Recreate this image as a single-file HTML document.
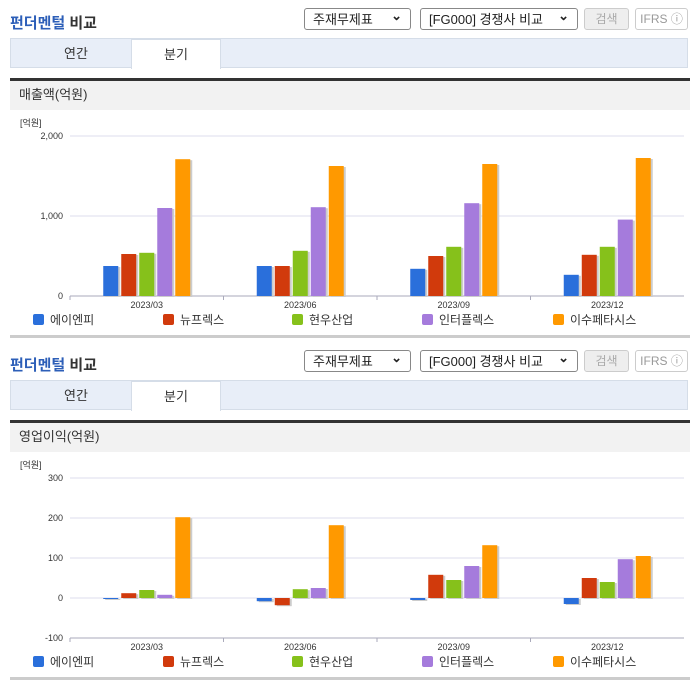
<!DOCTYPE html>
<html><head><meta charset="utf-8"><style>
body{margin:0;width:696px;height:684px;background:#fff;font-family:"Liberation Sans","Noto Sans CJK KR",sans-serif;position:relative;overflow:hidden}
.sec{position:absolute;left:0;width:696px;height:342px}
.title{position:absolute;left:10px;top:12px;font-size:15px;font-weight:bold;color:#333}
.title span{color:#2d5fb8}
.sel{position:absolute;top:8px;height:22px;border:1px solid #888;border-radius:3px;font-size:13px;line-height:22px;padding-left:8px;box-sizing:border-box;color:#222;background:#fff}
.sel:after{content:"⌄";position:absolute;right:8px;top:-4px;font-weight:bold}
.btn{position:absolute;top:8px;height:22px;border:1px solid #ccc;border-radius:3px;font-size:12px;line-height:20px;text-align:center;box-sizing:border-box;color:#aaa;background:#eee}
.tabs{position:absolute;left:10px;top:38px;width:678px;height:30px;background:#e8eef8;border:1px solid #d5dde8;box-sizing:border-box}
.tab{position:absolute;top:0;height:30px;width:90px;text-align:center;line-height:30px;font-size:13px;color:#333}
.tab.on{background:#fff;border:1px solid #d5dde8;border-bottom:none;box-sizing:border-box;left:120px}
.hdr{position:absolute;left:10px;top:78px;width:680px;height:32px;background:#f2f2f2;border-top:3px solid #333;box-sizing:border-box;font-size:13px;line-height:28px;padding-left:9px;color:#333}
.bot{position:absolute;left:10px;top:335px;width:680px;height:3px;background:#ccc}
svg{position:absolute;left:0;top:0}
</style></head><body>
<div class="sec" id="s1" style="top:0"></div>
<div class="sec" id="s2" style="top:342px"></div>
<script>
const categories=["2023/03","2023/06","2023/09","2023/12"];
const seriesNames=["에이엔피","뉴프렉스","현우산업","인터플렉스","이수페타시스"];
const colors=["#2a6fdb","#d13a0c","#86c11b","#a57bdc","#ff9900"];
const revAnp=[375,375,340,265];
const revNewflex=[525,375,500,515];
const revHyunwoo=[540,565,615,615];
const revInterflex=[1100,1110,1160,955];
const revIsu=[1710,1625,1650,1725];
const revTicks=[0,1000,2000];
const revTickLabels=["0","1,000","2,000"];
const opAnp=[0,-8,-5,-15];
const opNewflex=[12,-18,58,50];
const opHyunwoo=[20,22,45,40];
const opInterflex=[8,25,80,97];
const opIsu=[202,182,132,105];
const opTicks=[-100,0,100,200,300];
const opTickLabels=["-100","0","100","200","300"];
const NS="http://www.w3.org/2000/svg";
function mk(tag,attrs,parent){const e=document.createElementNS(NS,tag);for(const k in attrs)e.setAttribute(k,attrs[k]);parent.appendChild(e);return e;}
function section(id,label,series,ticks,tickLabels,yMin,yMax,yTop,yBot,axisY,sname){
 const s=document.getElementById(id);
 s.innerHTML=`<div class="title"><span>펀더멘털</span> 비교</div>
<div class="sel" style="left:304px;width:107px">주재무제표</div>
<div class="sel" style="left:420px;width:158px">[FG000] 경쟁사 비교</div>
<div class="btn" style="left:584px;width:45px">검색</div>
<div class="btn" style="left:635px;width:53px;background:#fff;color:#999">IFRS ⓘ</div>
<div class="tabs"><div class="tab" style="left:20px">연간</div><div class="tab on">분기</div></div>
<div class="hdr">${label}</div>
<div class="bot"></div>`;
 const svg=mk("svg",{width:696,height:342},s);
 
 
 const y=v=>yBot-(v-yMin)/(yMax-yMin)*(yBot-yTop);
 const x0=70,x1=684,cw=(x1-x0)/categories.length;
 const u=mk("text",{x:20,y:yTop-10,"font-size":9,fill:"#333"},svg);u.textContent="[억원]";
 
 
 ticks.forEach((t,i)=>{
  mk("line",{x1:x0,x2:x1,y1:y(t),y2:y(t),stroke:"#dde",["stroke-width"]:1},svg);
  const tx=mk("text",{x:63,y:y(t)+3,"font-size":9,fill:"#333","text-anchor":"end"},svg);tx.textContent=tickLabels[i];
  
  
 });
 mk("line",{x1:x0,x2:x1,y1:axisY,y2:axisY,stroke:"#aab"},svg);
 categories.forEach((c,ci)=>{
  const cx=x0+cw*(ci+0.5);
  mk("line",{x1:x0+cw*ci,x2:x0+cw*ci,y1:axisY,y2:axisY+4,stroke:"#aab"},svg);
  const tx=mk("text",{x:cx,y:axisY+12,"font-size":9,fill:"#333","text-anchor":"middle"},svg);tx.textContent=c;
  
  
  series.forEach((arr,si)=>{
   const v=arr[ci],bx=cx+(si-2)*18-7.5;
   const top=Math.min(y(v),y(0)),h=Math.max(Math.abs(y(v)-y(0)),1);
   mk("rect",{x:bx+2,y:top+1,width:15,height:h,fill:"#ccc"},svg);
   const r=mk("rect",{x:bx,y:top,width:15,height:h,fill:colors[si]},svg);
   
   
  });
 });
 const lx=[33,163,292,422,553];
 seriesNames.forEach((n,i)=>{
  mk("rect",{x:lx[i],y:314,width:11,height:11,rx:2,fill:colors[i]},svg);
  const tx=mk("text",{x:lx[i]+17,y:324,"font-size":12,fill:"#333"},svg);tx.textContent=n;
  
  
 });
}
section("s1","매출액(억원)",[revAnp,revNewflex,revHyunwoo,revInterflex,revIsu],revTicks,revTickLabels,0,2000,136,296,296,"revenue-chart");
section("s2","영업이익(억원)",[opAnp,opNewflex,opHyunwoo,opInterflex,opIsu],opTicks,opTickLabels,-100,300,136,296,296,"operating-profit-chart");
</script>
</body></html>
